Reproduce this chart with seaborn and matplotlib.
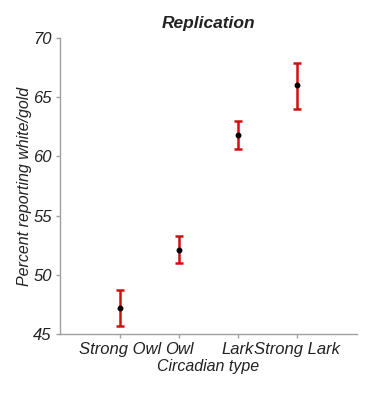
import matplotlib
matplotlib.use("Agg")
import matplotlib.pyplot as plt
import seaborn as sns
import pandas as pd
import numpy as np

# values
categories = ["Strong Owl", "Owl", "Lark", "Strong Lark"]
means = [47.2, 52.1, 61.8, 66.0]
lower = [45.7, 51.0, 60.6, 64.0]
upper = [48.7, 53.3, 63.0, 67.9]

sns.set_style("white")
plt.rcParams["font.family"] = ["Liberation Sans", "DejaVu Sans"]

df = pd.DataFrame({"type": categories, "pct": means})
pos = np.arange(len(categories))

fig = plt.figure(figsize=(3.75, 3.93), dpi=100)
ax = fig.add_axes([0.16, 0.15, 0.792, 0.753])

err = [np.array(means) - np.array(lower), np.array(upper) - np.array(means)]
ax.errorbar(pos, means, yerr=err, fmt="none", ecolor="#d10f0f",
            elinewidth=1.8, capsize=3, capthick=1.8, zorder=2)
sns.scatterplot(x=pos, y=df["pct"], color="black", s=18, ax=ax, zorder=3,
                edgecolor="black", linewidth=0)

ax.set_xlim(-1.02, 4.02)
ax.set_ylim(45, 70)
ax.set_yticks([45, 50, 55, 60, 65, 70])
ax.set_xticks(pos)
ax.set_xticklabels(categories, fontsize=12, style="italic", color="#222222")
for t in ax.get_yticklabels():
    t.set_fontsize(12)
    t.set_fontstyle("italic")
    t.set_color("#222222")

for side in ["top", "right"]:
    ax.spines[side].set_visible(False)
for side in ["left", "bottom"]:
    ax.spines[side].set_color("#a0a0a0")
    ax.spines[side].set_linewidth(1.0)
ax.tick_params(axis="both", direction="out", length=3, width=1,
               color="#a0a0a0", left=True, bottom=True, pad=3)

ax.set_xlabel("Circadian type", fontsize=11.5, style="italic", color="#222222",
              labelpad=1.5)
ax.set_ylabel("Percent reporting white/gold", fontsize=11.5, style="italic",
              color="#222222", labelpad=1)
ax.set_title("Replication", fontsize=12.5, style="italic", fontweight="bold",
             color="#222222", pad=7)

fig.savefig("out.png", dpi=100, facecolor="white")
